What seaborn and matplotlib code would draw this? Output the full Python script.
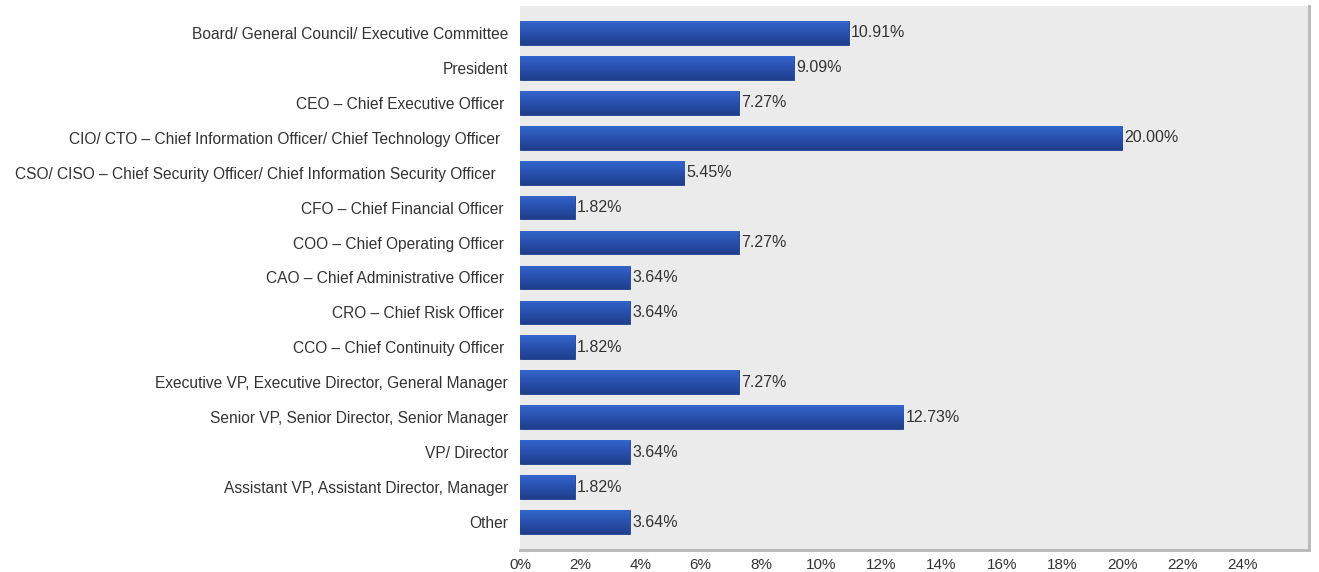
import matplotlib.pyplot as plt
import numpy as np
import pandas as pd
import seaborn as sns
from matplotlib.colors import LinearSegmentedColormap

roles = [
    "Board/ General Council/ Executive Committee",
    "President",
    "CEO – Chief Executive Officer ",
    "CIO/ CTO – Chief Information Officer/ Chief Technology Officer  ",
    "CSO/ CISO – Chief Security Officer/ Chief Information Security Officer   ",
    "CFO – Chief Financial Officer ",
    "COO – Chief Operating Officer ",
    "CAO – Chief Administrative Officer ",
    "CRO – Chief Risk Officer ",
    "CCO – Chief Continuity Officer ",
    "Executive VP, Executive Director, General Manager",
    "Senior VP, Senior Director, Senior Manager",
    "VP/ Director",
    "Assistant VP, Assistant Director, Manager",
    "Other",
]
share = [10.91, 9.09, 7.27, 20.00, 5.45, 1.82, 7.27, 3.64, 3.64, 1.82,
         7.27, 12.73, 3.64, 1.82, 3.64]
x_ticks = list(range(0, 26, 2))

df = pd.DataFrame({"role": roles, "share": share})

sns.set_style("white")
plt.rcParams["font.family"] = ["Liberation Sans", "DejaVu Sans"]

fig = plt.figure(figsize=(13.19, 5.72), dpi=100)
ax = fig.add_axes([520 / 1319, 22 / 572, 789 / 1319, 544 / 572])
ax.set_facecolor("#ebebeb")

sns.barplot(data=df, x="share", y="role", orient="h", color="#2b56b8",
            width=0.68, saturation=1, edgecolor="#1e3f8f", linewidth=0.6, ax=ax)

# vertical gradient on each bar
grad = np.linspace(0, 1, 64).reshape(-1, 1)
cmap = LinearSegmentedColormap.from_list("bar", ["#3366cc", "#2850ad", "#1f3f8c"])
for p in ax.patches:
    x0, y0 = p.get_x(), p.get_y()
    w, h = p.get_width(), p.get_height()
    im = ax.imshow(grad, cmap=cmap, aspect="auto", extent=(x0, x0 + w, y0 + h, y0),
                   zorder=p.get_zorder() + 0.1, interpolation="bicubic")
    im.set_clip_path(p)

for i, v in enumerate(share):
    ax.text(v + 0.08, i, f"{v:.2f}%", va="center", ha="left",
            fontsize=11.5, color="#333333")

ax.set_xlim(0, 26.2)
ax.set_ylim(14.8, -0.77)
ax.set_xticks(x_ticks)
ax.set_xticklabels([f"{t}%" for t in x_ticks], fontsize=11, color="#333333")
ax.tick_params(axis="x", direction="out", length=4, color="#888888", pad=2)
ax.tick_params(axis="y", length=0, pad=8.5, labelsize=11.2, labelcolor="#333333")
ax.set_xlabel("")
ax.set_ylabel("")

for side in ["top", "left"]:
    ax.spines[side].set_visible(False)
ax.spines["right"].set_color("#b8b8b8")
ax.spines["right"].set_linewidth(2)
ax.spines["bottom"].set_color("#b8b8b8")
ax.spines["bottom"].set_linewidth(2)

fig.savefig("out.png", dpi=100)
